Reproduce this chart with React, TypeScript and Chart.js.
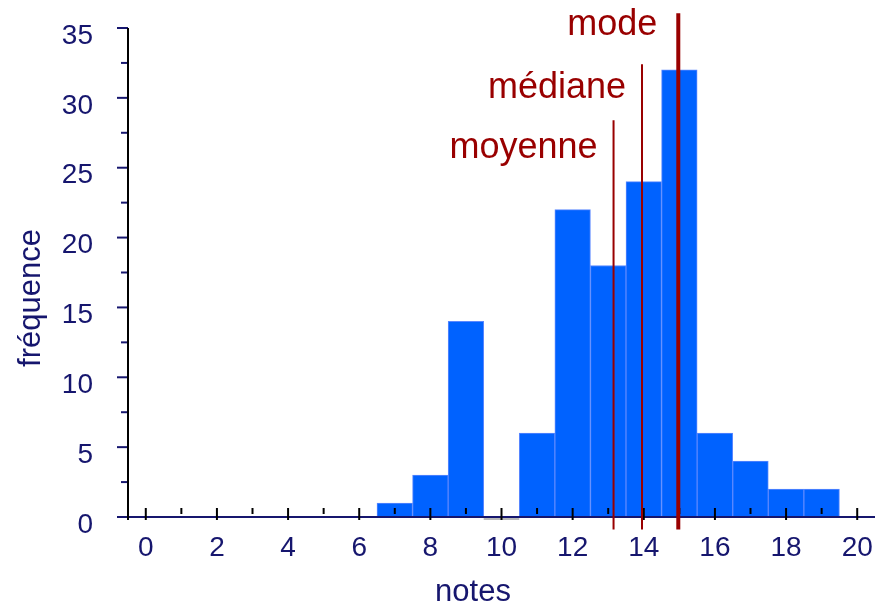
import { useEffect, useRef } from 'react';
import { Chart, registerables } from 'chart.js';

Chart.register(...registerables);

// ---- data ----
const notes = [7, 8, 9, 10, 11, 12, 13, 14, 15, 16, 17, 18, 19];
const frequences = [1, 3, 14, 0, 6, 22, 18, 24, 32, 6, 4, 2, 2];
const xTickValues = [0, 2, 4, 6, 8, 10, 12, 14, 16, 18, 20];
const xMinorTickValues = [1, 3, 5, 7, 9, 11, 13, 15, 17, 19];
const yTickValues = [0, 5, 10, 15, 20, 25, 30, 35];
const yMinorTickValues = [2.5, 7.5, 12.5, 17.5, 22.5, 27.5, 32.5];
const markerNames = ['moyenne', 'médiane', 'mode'];
const markerValues = [13.15, 13.95, 14.97];
const markerTops = [28.4, 32.4, 36.05];
const markerBottom = -0.9;
const xTitle = 'notes';
const yTitle = 'fréquence';

const NAVY = '#16166e';
const RED = '#990000';
const BLUE = '#0062ff';
const FONT = '"Liberation Sans", Arial, sans-serif';

const markerWidths = [2, 2, 4];
const labelOffsets = [16, 16, 21];
const labelBaselines = [25.7, 30.0, 34.5];

const axesPlugin = {
  id: 'axesPlugin',
  afterDatasetDraw(chart: any, args: any) {
    if (args.meta.type !== 'bar') return;
    const { ctx, chartArea: a, scales } = chart;
    const x = scales.x;
    const y = scales.y;
    const seg = (x1: number, y1: number, x2: number, y2: number) => {
      ctx.beginPath();
      ctx.moveTo(x1, y1);
      ctx.lineTo(x2, y2);
      ctx.stroke();
    };
    ctx.save();
    ctx.lineWidth = 2;
    // gray zero-height bar
    ctx.strokeStyle = '#b8b8b8';
    notes.forEach((n, i) => {
      if (frequences[i] === 0) {
        seg(x.getPixelForValue(n - 0.5), a.bottom + 2, x.getPixelForValue(n + 0.5), a.bottom + 2);
      }
    });
    // y ticks
    ctx.strokeStyle = NAVY;
    yTickValues.forEach((v) => {
      const py = y.getPixelForValue(v);
      seg(a.left - 11, py, a.left, py);
    });
    yMinorTickValues.forEach((v) => {
      const py = y.getPixelForValue(v);
      seg(a.left - 7, py, a.left, py);
    });
    // x axis line
    seg(a.left, a.bottom, a.right, a.bottom);
    // y axis line
    ctx.strokeStyle = '#000';
    seg(a.left, a.top, a.left, a.bottom + 3);
    // x ticks
    xTickValues.forEach((v) => {
      const px = x.getPixelForValue(v);
      seg(px, a.bottom - 9, px, a.bottom + 3);
    });
    xMinorTickValues.forEach((v) => {
      const px = x.getPixelForValue(v);
      seg(px, a.bottom - 9, px, a.bottom - 3);
    });
    ctx.restore();
  },
  afterDraw(chart: any) {
    const { ctx, scales } = chart;
    const x = scales.x;
    const y = scales.y;
    ctx.save();
    ctx.fillStyle = RED;
    ctx.font = `36px ${FONT}`;
    ctx.textAlign = 'right';
    ctx.textBaseline = 'alphabetic';
    markerNames.forEach((name, i) => {
      ctx.fillText(
        name,
        x.getPixelForValue(markerValues[i]) - labelOffsets[i],
        y.getPixelForValue(labelBaselines[i])
      );
    });
    ctx.fillStyle = NAVY;
    ctx.font = `31px ${FONT}`;
    ctx.textAlign = 'center';
    ctx.fillText(xTitle, 473, 601);
    ctx.translate(40, 298);
    ctx.rotate(-Math.PI / 2);
    ctx.fillText(yTitle, 0, 0);
    ctx.restore();
  },
};

export default function App() {
  const ref = useRef<HTMLCanvasElement | null>(null);
  useEffect(() => {
    document.body.style.margin = '0';
    const canvas = ref.current;
    if (!canvas) return;
    const markerDatasets = markerNames.map((name, i) => ({
      type: 'line' as const,
      label: name,
      data: [
        { x: markerValues[i], y: markerTops[i] },
        { x: markerValues[i], y: markerBottom },
      ],
      borderColor: RED,
      borderWidth: markerWidths[i],
      pointRadius: 0,
      clip: false as any,
      order: 1,
    }));
    const chart = new Chart(canvas, {
      type: 'bar',
      data: {
        datasets: [
          {
            type: 'bar',
            label: 'fréquence',
            data: notes.map((n, i) => ({ x: n, y: frequences[i] })),
            backgroundColor: BLUE,
            borderColor: '#5b88ff',
            borderWidth: 1,
            barPercentage: 1,
            categoryPercentage: 1,
            order: 2,
          } as any,
          ...markerDatasets,
        ],
      },
      options: {
        animation: false,
        responsive: false,
        devicePixelRatio: 1,
        layout: { padding: { left: 0, top: 28, right: 7, bottom: 0 } },
        plugins: { legend: { display: false }, tooltip: { enabled: false } },
        scales: {
          x: {
            type: 'linear',
            min: -0.5,
            max: 20.5,
            offset: false,
            grid: { display: false, drawTicks: false, offset: false },
            border: { display: false },
            afterBuildTicks: (s: any) => {
              s.ticks = xTickValues.map((v) => ({ value: v }));
            },
            afterFit: (s: any) => {
              s.height = 88;
              s.paddingLeft = 0;
              s.paddingRight = 0;
            },
            ticks: {
              color: NAVY,
              font: { family: FONT, size: 28 },
              padding: 14,
              maxRotation: 0,
              autoSkip: false,
            },
          },
          y: {
            type: 'linear',
            min: 0,
            max: 35,
            grid: { display: false, drawTicks: false },
            border: { display: false },
            afterBuildTicks: (s: any) => {
              s.ticks = yTickValues.map((v) => ({ value: v }));
            },
            afterFit: (s: any) => {
              s.width = 128;
              s.paddingTop = 0;
              s.paddingBottom = 0;
            },
            ticks: {
              color: NAVY,
              font: { family: FONT, size: 28 },
              padding: 35,
              labelOffset: 8,
              autoSkip: false,
            },
          },
        },
      } as any,
      plugins: [axesPlugin],
    });
    return () => chart.destroy();
  }, []);
  return (
    <div style={{ width: 882, height: 605 }}>
      <canvas ref={ref} width={882} height={605} style={{ display: 'block' }} />
    </div>
  );
}
